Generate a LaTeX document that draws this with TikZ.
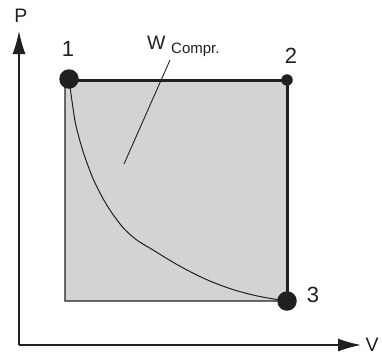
\documentclass[tikz,border=0pt]{standalone}
\usepackage{fontspec}
\setmainfont{Liberation Sans}
\usetikzlibrary{arrows.meta}
\definecolor{ink}{HTML}{231F20}
\definecolor{area}{HTML}{D2D3D5}
\begin{document}
\begin{tikzpicture}[x=1pt,y=-1pt,
  axis/.style={draw=ink,line width=1.4pt,-{Latex[length=23pt,width=13pt]}},
  thin/.style={draw=ink,line width=1.2pt},
  thick/.style={draw=ink,line width=3pt},
  dot/.style={circle,fill=ink,inner sep=0pt},
  lab/.style={text=ink,font=\fontsize{22}{24}\selectfont,inner sep=0pt},
  axlab/.style={text=ink,font=\fontsize{19.5}{22}\selectfont,inner sep=0pt}]
\useasboundingbox (0,0) rectangle (382,356);
% coordinates
\coordinate (o) at (19,345);
\coordinate (ptop) at (19,31);
\coordinate (vend) at (361,345);
\coordinate (c1) at (69,79);
\coordinate (c2) at (287,80);
\coordinate (c3) at (287,301);
\coordinate (c4) at (65,301);
% area
\fill[area] (65,80) rectangle (287,301);
\draw[thin] (c1) -- (65,80) -- (c4) -- (c3);
\draw[thick] (65,80) -- (c2) -- (c3);
% curve
\draw[draw=ink,line width=1pt] plot[smooth,tension=0.7] coordinates
  {(70,86) (73,108) (77,130) (87,163) (100,193) (117,220) (133,237) (153,250) (187,270) (220,285) (253,295) (281,300)};
% axes
\draw[axis] (o) -- (ptop);
\draw[axis] (o) -- (vend);
% dots
\node[dot,minimum size=19.5pt] (d1) at (c1) {};
\node[dot,minimum size=11.5pt] (d2) at (c2) {};
\node[dot,minimum size=19.5pt] (d3) at (c3) {};
% labels
\node[lab] (l1) at (68,49) {1};
\node[lab] (l2) at (291,56) {2};
\node[lab] (l3) at (313,295) {3};
\node[axlab] (lp) at (21,16) {P};
\node[axlab] (lv) at (372,345) {V};
\node[axlab,anchor=base west] (w) at (147,49) {W};
\node[text=ink,font=\fontsize{15}{17}\selectfont,inner sep=0pt,anchor=base west] (ws) at (171,53) {Compr.};
\coordinate (wl) at (170,60);
\coordinate (wa) at (124,164);
\draw[draw=ink,line width=0.9pt] (wl) -- (wa);
\end{tikzpicture}
\end{document}
